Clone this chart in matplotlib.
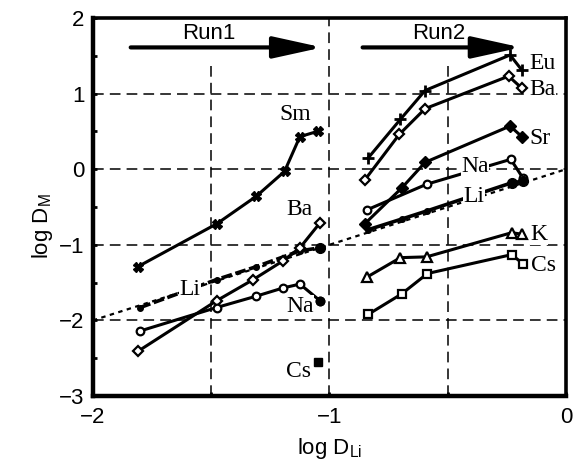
import matplotlib
matplotlib.use('Agg')
import matplotlib.pyplot as plt
from matplotlib.ticker import MultipleLocator

plt.rcParams['font.family'] = 'Liberation Sans'

# Run1 series (log D_Li, log D_M)
sm1_x = [-1.81, -1.475, -1.31, -1.19, -1.125, -1.05]
sm1_y = [-1.29, -0.72, -0.36, -0.03, 0.43, 0.50]
li1_x = [-1.80, -1.477, -1.31, -1.125, -1.04]
li1_y = [-1.83, -1.46, -1.29, -1.08, -1.04]
ba1_x = [-1.81, -1.477, -1.322, -1.195, -1.125, -1.04]
ba1_y = [-2.41, -1.74, -1.46, -1.21, -1.04, -0.71]
na1_x = [-1.80, -1.477, -1.31, -1.195, -1.125, -1.04]
na1_y = [-2.14, -1.83, -1.68, -1.57, -1.52, -1.74]
cs1_x = [-1.05]
cs1_y = [-2.55]

# Run2 series
eu2_x = [-0.836, -0.70, -0.596, -0.237, -0.187]
eu2_y = [0.15, 0.66, 1.04, 1.51, 1.31]
ba2_x = [-0.85, -0.705, -0.596, -0.243, -0.187]
ba2_y = [-0.14, 0.46, 0.80, 1.23, 1.07]
sr2_x = [-0.85, -0.695, -0.596, -0.237, -0.187]
sr2_y = [-0.72, -0.25, 0.09, 0.57, 0.43]
na2_x = [-0.843, -0.59, -0.234, -0.183]
na2_y = [-0.54, -0.20, 0.13, -0.115]
li2_x = [-0.836, -0.695, -0.586, -0.23, -0.183]
li2_y = [-0.80, -0.66, -0.55, -0.18, -0.16]
k2_x = [-0.843, -0.70, -0.59, -0.23, -0.187]
k2_y = [-1.43, -1.17, -1.16, -0.84, -0.86]
cs2_x = [-0.836, -0.695, -0.586, -0.23, -0.183]
cs2_y = [-1.92, -1.65, -1.38, -1.13, -1.25]

labels = [
    ('Sm', -1.146, 0.72), ('Ba', -1.125, -0.53), ('Li', -1.59, -1.59),
    ('Na', -1.125, -1.81), ('Cs', -1.133, -2.68),
    ('Eu', -0.10, 1.40), ('Ba', -0.10, 1.05), ('Sr', -0.11, 0.41),
    ('Na', -0.385, 0.04), ('Li', -0.39, -0.36), ('K', -0.115, -0.86),
    ('Cs', -0.094, -1.28),
]

fig = plt.figure(figsize=(5.73, 4.72), dpi=100)
ax = fig.add_axes([0.162, 0.161, 0.826, 0.801])
ax.set_xlim(-2, 0)
ax.set_ylim(-3, 2)

dash = (0, (7, 4))
for gx in [-1.5, -0.5]:
    ax.axvline(gx, ymax=0.89, color='k', lw=1.1, ls=dash, zorder=1)
ax.axvline(-1, color='k', lw=1.1, ls=dash, zorder=1)
for gy in [1, 0, -1, -2]:
    ax.axhline(gy, color='k', lw=1.1, ls=dash, zorder=1)

# 1:1 line
ax.plot([-2, 0], [-2, 0], color='k', lw=1.6, ls=(0, (2, 2)), zorder=2)

lw = 2.2
ax.plot(sm1_x, sm1_y, color='k', lw=lw, marker='X', ms=7, zorder=3)
ax.plot(li1_x, li1_y, color='k', lw=2.6, ls=(0, (3, 1)), marker='o', ms=4, zorder=3)
ax.plot(li1_x[-1:], li1_y[-1:], 'ko', ms=7, zorder=4)
ax.plot(ba1_x, ba1_y, color='k', lw=lw, marker='D', ms=5, mfc='white', mew=1.6, zorder=3)
ax.plot(na1_x, na1_y, color='k', lw=lw, marker='o', ms=5.5, mfc='white', mew=1.6, zorder=3)
ax.plot(na1_x[-1:], na1_y[-1:], 'ko', ms=6, zorder=4)
ax.plot(cs1_x, cs1_y, 'ks', ms=5.5, zorder=3)

ax.plot(eu2_x, eu2_y, color='k', lw=lw, marker='+', ms=9, mew=2, zorder=3)
ax.plot(ba2_x, ba2_y, color='k', lw=lw, marker='D', ms=5, mfc='white', mew=1.6, zorder=3)
ax.plot(sr2_x, sr2_y, color='k', lw=lw, marker='D', ms=6, zorder=3)
ax.plot(na2_x, na2_y, color='k', lw=lw, marker='o', ms=5.5, mfc='white', mew=1.6, zorder=3)
ax.plot(li2_x, li2_y, color='k', lw=2.6, marker='o', ms=4, zorder=3)
ax.plot(li2_x[-2:], li2_y[-2:], 'ko', ms=7, zorder=4)
ax.plot(k2_x, k2_y, color='k', lw=lw, marker='^', ms=7, mfc='white', mew=1.6, zorder=3)
ax.plot(cs2_x, cs2_y, color='k', lw=lw, marker='s', ms=6, mfc='white', mew=1.6, zorder=3)

for txt, lx, ly in labels:
    ax.text(lx, ly, txt, family='Liberation Serif', fontsize=17, ha='center', va='center',
            bbox=dict(facecolor='white', edgecolor='none', pad=0.3), zorder=5)

# run arrows
for name, x0, x1, tx in [('Run1', -1.84, -1.03, -1.51), ('Run2', -0.86, -0.19, -0.54)]:
    ax.annotate('', xy=(x1, 1.61), xytext=(x0, 1.61),
                arrowprops=dict(arrowstyle='-|>,head_length=1.5,head_width=0.33',
                                lw=3.0, color='k', shrinkA=0, shrinkB=0, mutation_scale=20),
                zorder=6)
    ax.text(tx, 1.79, name, fontsize=16, ha='center', va='center', zorder=6)

ax.xaxis.set_major_locator(MultipleLocator(1))
ax.yaxis.set_major_locator(MultipleLocator(1))
ax.xaxis.set_minor_locator(MultipleLocator(0.5))
ax.yaxis.set_minor_locator(MultipleLocator(0.5))
ax.tick_params(which='both', direction='in', length=3, width=2, labelsize=16)
ax.tick_params(axis='x', pad=8)
ax.tick_params(axis='y', pad=6)
for side in ['left', 'bottom']:
    ax.spines[side].set_linewidth(3.2)
for side in ['right', 'top']:
    ax.spines[side].set_linewidth(2.6)

ax.set_xlabel('log D$_{\\mathregular{Li}}$', fontsize=16)
ax.set_ylabel('log D$_{\\mathregular{M}}$', fontsize=16)
ax.xaxis.set_label_coords(0.5, -0.105)
ax.yaxis.set_label_coords(-0.08, 0.45)

fig.savefig('out.png', dpi=100)
